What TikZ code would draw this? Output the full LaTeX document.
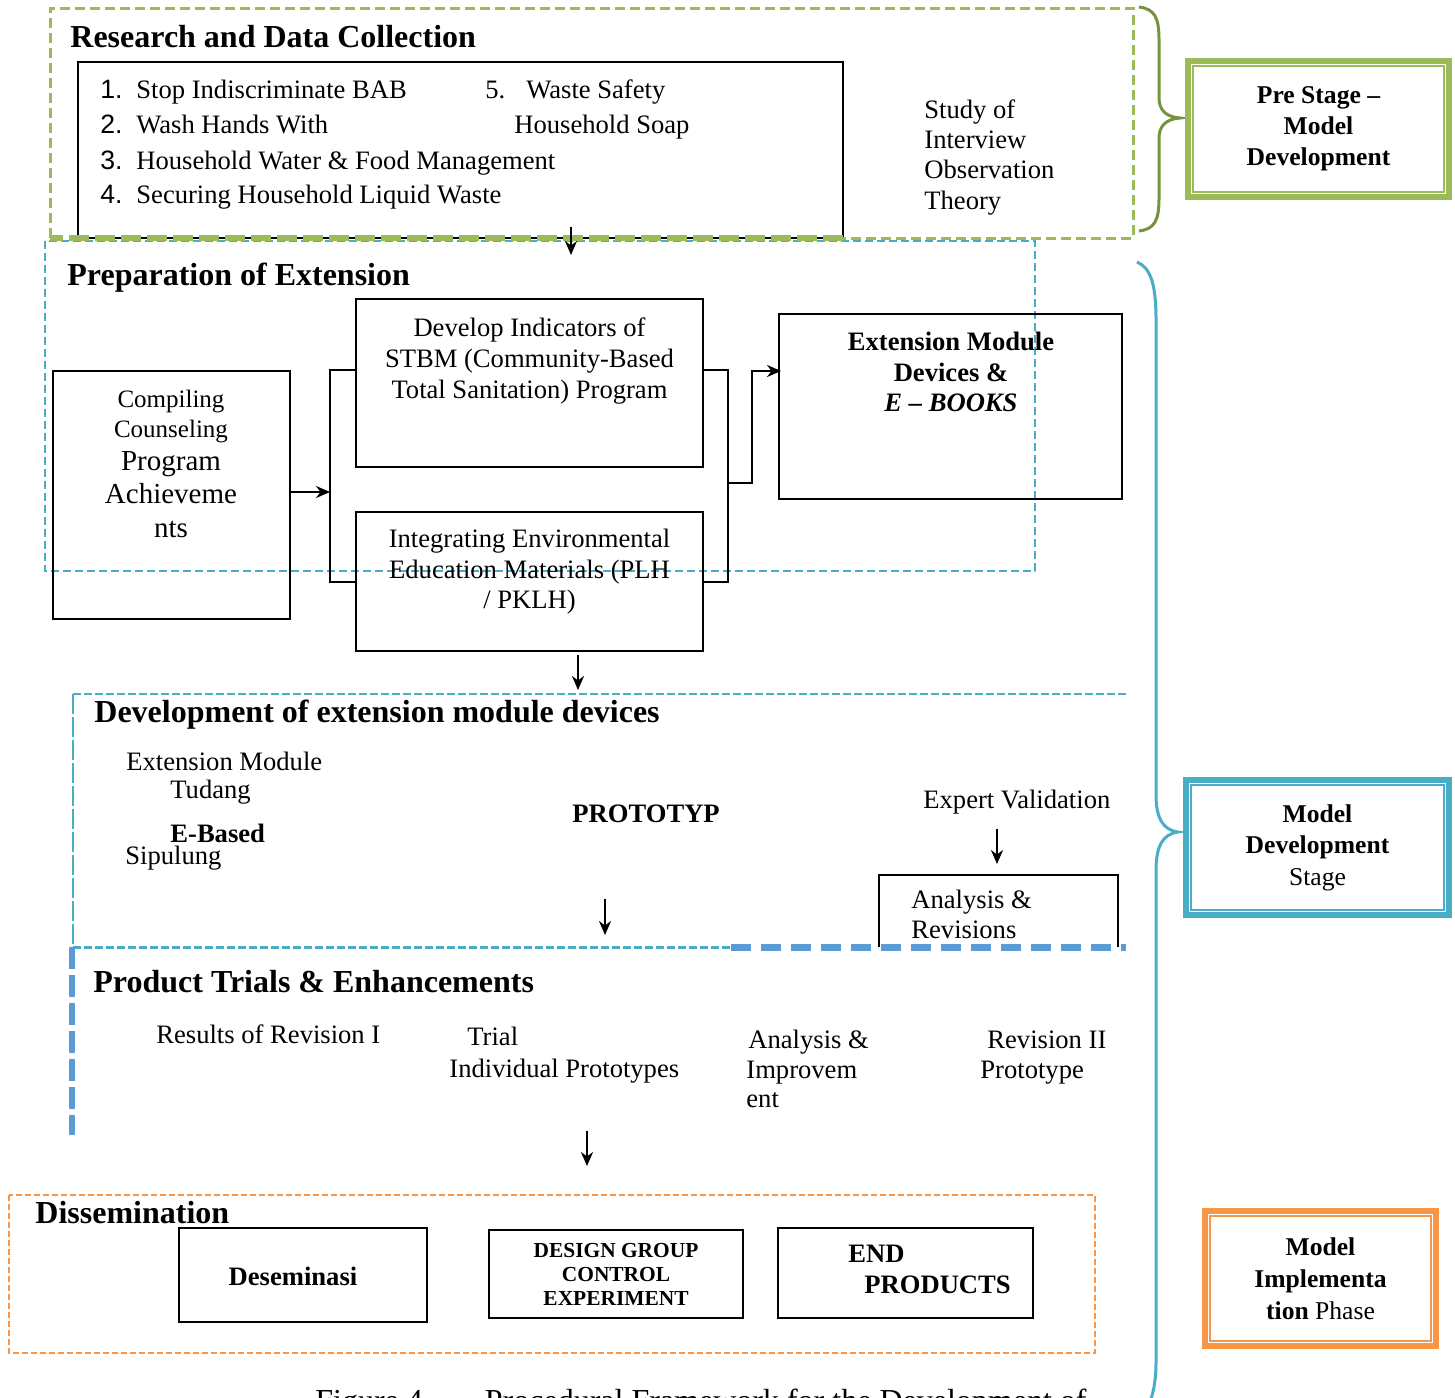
\documentclass[tikz,border=0pt]{standalone}
\usepackage{fontspec}
\setmainfont{Liberation Serif}
\newfontfamily\numfont{Liberation Sans}
\usepackage{xcolor}
\usetikzlibrary{arrows.meta, positioning, calc}

\definecolor{leafgreen}{HTML}{9BBB59}
\definecolor{olivegreen}{HTML}{77933C}
\definecolor{seablue}{HTML}{4BACC6}
\definecolor{midblue}{HTML}{5B9BD5}
\definecolor{softorange}{HTML}{F79646}

\newcommand{\bodysize}{\fontsize{13.3}{15.5}\selectfont}
\newcommand{\headsize}{\fontsize{16}{19}\selectfont\bfseries}
\newcommand{\stagesize}{\fontsize{12.8}{15.5}\selectfont\bfseries}

\begin{document}
\begin{tikzpicture}[
    x=0.5pt, y=-0.5pt,
    box/.style={draw, line width=1.2pt, inner sep=0pt},
    txt/.style={font=\bodysize, inner sep=0pt, anchor=base west},
    head/.style={font=\headsize, inner sep=0pt, anchor=base west},
    block/.style={font=\bodysize, inner sep=0pt, anchor=north, align=center},
    stagebox/.style={draw=#1, line width=3pt, inner sep=0pt, align=center, font=\stagesize},
    link/.style={line width=1pt},
    arrow/.style={-{Stealth[length=7pt,width=6pt]}, line width=1.2pt},
]
\useasboundingbox (0,0) rectangle (1455,1397);

% Research and data collection
\draw[seablue, line width=0.8pt, dash pattern=on 4pt off 2pt] (45,241) rectangle (1035,571);
\node[box, minimum width=382.5pt, minimum height=88pt] (items) at (460.5,150) {};
\draw[leafgreen, line width=1.5pt, dash pattern=on 5pt off 2.5pt] (50,238) |- (1133,8) |- (843,238);
\draw[leafgreen, line width=3pt, dash pattern=on 10pt off 3pt] (843,238) -- (50,238);
\node[head] (research) at (70,47) {Research and Data Collection};
\node[txt] (item1) at (100,98) {\makebox[18pt][l]{\numfont 1.}Stop Indiscriminate BAB};
\node[txt] (item2) at (100,133) {\makebox[18pt][l]{\numfont 2.}Wash Hands With};
\node[txt] (item3) at (100,169) {\makebox[18pt][l]{\numfont 3.}Household Water \& Food Management};
\node[txt] (item4) at (100,203) {\makebox[18pt][l]{\numfont 4.}Securing Household Liquid Waste};
\node[txt] (item5) at (485,98) {\makebox[20.5pt][l]{5.}Waste Safety};
\node[txt] (item5b) at (514,133) {Household Soap};
\node[block, anchor=north west, align=left, font=\fontsize{13.3}{15.2}\selectfont] (study) at (924,99) {Study of\\Interview\\Observation\\Theory};

% Pre stage
\draw[olivegreen, line width=1.5pt] (1139,7) .. controls (1155,9) and (1159,18) .. (1159,40)
    -- (1159,98) .. controls (1159,110) and (1166,117) .. (1180,118)
    .. controls (1166,119) and (1159,126) .. (1159,138)
    -- (1159,198) .. controls (1159,220) and (1155,229) .. (1139,231);
\node[stagebox=leafgreen, minimum width=130.5pt, minimum height=68pt] (prestage) at (1318.5,129) {Pre Stage --\\Model\\Development};
\draw[leafgreen, line width=0.7pt] ([shift={(4pt,-4pt)}]prestage.north west) rectangle ([shift={(-4pt,4pt)}]prestage.south east);

% Preparation of extension
\coordinate (r2pa) at (571,227);
\coordinate (r2pb) at (571,255);
\draw[arrow] (r2pa) -- (r2pb);
\node[head] (prep) at (67,285) {Preparation of Extension};
\node[box, minimum width=118.5pt, minimum height=124pt] (compile) at (171.5,495) {};
\node[block, font=\fontsize{12.5}{15}\selectfont] (compiletxt) at (171,390) {Compiling\\Counseling};
\node[block, font=\fontsize{14.5}{16.75}\selectfont] (compiletxtb) at (171,451) {Program\\Achieveme\\nts};
\node[box, minimum width=173.5pt, minimum height=84pt] (develop) at (529.5,383) {};
\node[block] (developtxt) at (529.5,317) {Develop Indicators of\\STBM (Community-Based\\Total Sanitation) Program};
\node[box, minimum width=173.5pt, minimum height=69.5pt] (integrate) at (529.5,581.5) {};
\node[block, font=\fontsize{13.3}{15.25}\selectfont] (integratetxt) at (529.5,529) {Integrating Environmental\\Education Materials (PLH\\/ PKLH)};
\node[box, minimum width=171.5pt, minimum height=92.5pt] (ebook) at (950.5,406.5) {};
\node[block, font=\fontsize{13.3}{15.25}\selectfont\bfseries] (ebooktxt) at (951,332) {Extension Module\\Devices \&\\\textit{E -- BOOKS}};

\coordinate (lbr) at (330,492);
\coordinate (rbr) at (728,483);
\coordinate (ebin) at (781,371);
\draw[link] (develop.west |- compile.north) -| (lbr) |- (integrate.west);
\draw[link] (develop.east |- compile.north) -| (rbr) |- (integrate.east);
\draw[arrow] (compile.east |- lbr) -- (lbr);
\draw[arrow] (rbr) -- ++(24,0) |- (ebin);

% Development of extension module devices
\coordinate (p2da) at (578,655);
\coordinate (p2db) at (578,690);
\draw[arrow] (p2da) -- (p2db);
\draw[seablue, line width=1.3pt, dash pattern=on 4pt off 1.5pt] (73,694) -- (1126,694);
\draw[seablue, line width=0.8pt, dash pattern=on 10pt off 1.5pt] (73,694) -- (73,947);
\node[head] (devel) at (94,722) {Development of extension module devices};
\node[txt] (modname) at (126,770) {Extension Module};
\node[txt] (tudang) at (170,798) {Tudang};
\node[txt, font=\bodysize\bfseries] (ebased) at (170,842) {E-Based};
\node[txt] (sipulung) at (125,864) {Sipulung};
\node[txt, font=\bodysize\bfseries] (proto) at (572,822) {PROTOTYP};
\node[txt] (expert) at (923,808) {Expert Validation};
\coordinate (e2aa) at (997,829);
\coordinate (e2ab) at (997,864);
\draw[arrow] (e2aa) -- (e2ab);
\draw[line width=1.2pt] (879,947) |- (1118,875) -- (1118,947);
\node[txt] (analysis) at (911,908) {Analysis \&};
\node[txt] (revisions) at (911,938) {Revisions};
\coordinate (d2ta) at (605,899);
\coordinate (d2tb) at (605,935);
\draw[arrow] (d2ta) -- (d2tb);
\draw[seablue, line width=1.5pt, dash pattern=on 4pt off 1.5pt] (73,947) -- (731,947);

% Product trials
\draw[midblue, line width=3.5pt, dash pattern=on 10pt off 5pt] (731,947) -- (1126,947);
\draw[midblue, line width=3pt, dash pattern=on 11pt off 3pt] (72,947) -- (72,1135);
\node[head] (trials) at (93,992) {Product Trials \& Enhancements};
\node[txt] (revone) at (156,1043) {Results of Revision I};
\node[txt] (trial) at (467,1045) {Trial};
\node[txt] (indiv) at (449,1077) {Individual Prototypes};
\node[txt] (analysisb) at (748,1048) {Analysis \&};
\node[txt] (improv) at (746,1078) {Improvem};
\node[txt] (improvb) at (746,1107) {ent};
\node[txt] (revtwo) at (987,1048) {Revision II};
\node[txt] (revtwob) at (980,1078) {Prototype};
\coordinate (t2sa) at (587,1131);
\coordinate (t2sb) at (587,1166);
\draw[arrow] (t2sa) -- (t2sb);

% Model development stage
\draw[seablue, line width=1.5pt] (1137,262) .. controls (1151,268) and (1156,285) .. (1156,320)
    -- (1156,795) .. controls (1156,818) and (1163,830) .. (1178,832)
    .. controls (1163,834) and (1156,846) .. (1156,870)
    -- (1156,1362) .. controls (1156,1385) and (1152,1400) .. (1145,1412);
\node[stagebox=seablue, minimum width=131.5pt, minimum height=67.5pt, font=\fontsize{12.8}{15.75}\selectfont\bfseries] (devstage) at (1317.5,847.5) {Model\\Development\\{\mdseries Stage}};
\draw[seablue, line width=0.7pt] ([shift={(4pt,-4pt)}]devstage.north west) rectangle ([shift={(-4pt,4pt)}]devstage.south east);

% Dissemination
\draw[softorange, line width=0.8pt, dash pattern=on 3pt off 1.5pt] (9,1195) rectangle (1095,1353);
\node[head] (dissem) at (35,1223) {Dissemination};
\node[box, minimum width=124pt, minimum height=47pt] (desem) at (303,1275) {};
\node[txt, anchor=base, font=\bodysize\bfseries] (desemtxt) at (293,1285) {Deseminasi};
\node[box, minimum width=127pt, minimum height=44pt, align=center, font=\fontsize{10.7}{12}\selectfont\bfseries] (design) at (616,1274) {DESIGN GROUP\\CONTROL\\EXPERIMENT};
\node[box, minimum width=127.5pt, minimum height=45pt] (endprod) at (905.5,1273) {};
\node[txt, font=\bodysize\bfseries] (endtxt) at (848,1262) {END};
\node[txt, font=\bodysize\bfseries] (prodtxt) at (864,1293) {PRODUCTS};

\node[stagebox=softorange, minimum width=115.5pt, minimum height=67.5pt, font=\fontsize{12.8}{16}\selectfont\bfseries] (implstage) at (1320.5,1278.5) {Model\\Implementa\\tion {\mdseries Phase}};
\draw[softorange, line width=0.7pt] ([shift={(4pt,-4pt)}]implstage.north west) rectangle ([shift={(-4pt,4pt)}]implstage.south east);

% Caption (cut by the page edge)
\node[txt, font=\fontsize{16}{19}\selectfont] (caption) at (315,1411) {Figure 4.\hspace{27pt}Procedural Framework for the Development of};
\end{tikzpicture}
\end{document}
